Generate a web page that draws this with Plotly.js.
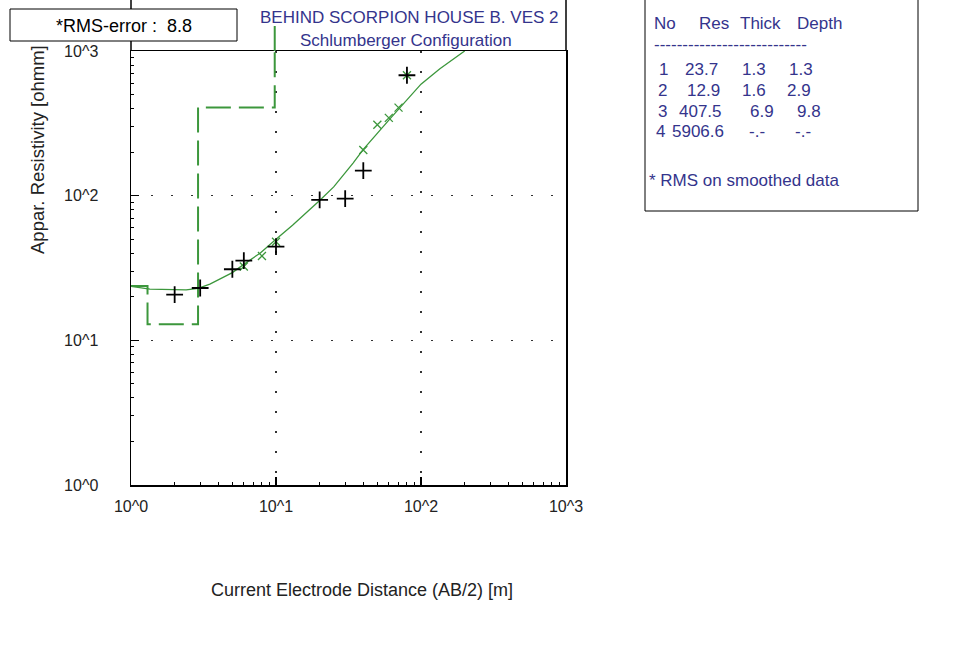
<!DOCTYPE html>
<html><head><meta charset="utf-8">
<script src="https://cdn.plot.ly/plotly-3.0.1.min.js"></script>
<style>html,body{margin:0;padding:0;background:#fff}</style>
</head><body><div id="chart" style="width:966px;height:651px"></div>
<script>
// ---- data ----
const abMeasured  = [2, 3, 5, 6, 10, 20, 30, 40, 80];
const rhoMeasured = [20.7, 23.0, 31.0, 35.6, 44.4, 93.5, 95.5, 149, 680];
const abSmoothed  = [6, 8, 10, 40, 50, 60, 70, 80];
const rhoSmoothed = [32.4, 38.3, 48, 207, 309, 345, 406, 680];
const abCurve  = [1, 1.35, 2.4, 2.9, 3.5, 4.1, 5, 6, 7.8, 10, 13, 20, 25, 34, 40, 60, 100, 135, 200];
const rhoCurve = [23.6, 22.6, 22.3, 22.9, 24.5, 26.5, 29.4, 33.5, 40.2, 50, 62.5, 92.5, 115, 168, 209, 333, 590, 753, 1000];
const layerNo    = ['1', '2', '3', '4'];
const layerRes   = [23.7, 12.9, 407.5, 5906.6];
const layerThick = [1.3, 1.6, 6.9, null];
const layerDepth = [1.3, 2.9, 9.8, null];
const tableHeader = ['No', 'Res', 'Thick', 'Depth'];
const rmsError = 8.8;
const titleLines = ['BEHIND SCORPION HOUSE B. VES 2', 'Schlumberger Configuration'];
const xTitle = 'Current Electrode Distance (AB/2) [m]';
const yTitle = 'Appar. Resistivity [ohmm]';
const tickVals = [1, 10, 100, 1000];
const tickText = ['10^0', '10^1', '10^2', '10^3'];
const footNote = '* RMS on smoothed data';

// ---- model step line built from the layer table ----
const mx = [1], my = [layerRes[0]];
for (let i = 0; i < 3; i++) {
  mx.push(layerDepth[i], layerDepth[i]);
  my.push(layerRes[i], layerRes[i + 1]);
}
mx.push(1000); my.push(layerRes[3]);

// ---- geometry helpers (pixel -> paper) ----
const L = 131, R = 566, T = 51, B = 485;
const px = v => (v - L) / (R - L);
const py = v => (B - v) / (B - T);

const green = '#3c973c';
const blue = '#34348c';
const FONT = 'Liberation Sans, Arial, sans-serif';

const traces = [
  {x: mx, y: my, type: 'scatter', mode: 'lines',
   line: {color: green, width: 2, dash: '25px,8px'}},
  {x: abCurve, y: rhoCurve, type: 'scatter', mode: 'lines',
   line: {color: green, width: 1.3}},
  {x: abSmoothed, y: rhoSmoothed, type: 'scatter', mode: 'markers',
   marker: {symbol: 'x-thin', size: 8, line: {color: green, width: 1.3}}},
  {x: abMeasured, y: rhoMeasured, type: 'scatter', mode: 'markers',
   marker: {symbol: 'cross-thin', size: 12, line: {color: '#000', width: 1.8}}}
];

const axisCommon = {
  type: 'log', range: [0, 3], tickmode: 'array', tickvals: tickVals, ticktext: tickText,
  showline: true, linecolor: '#000', linewidth: 1.5, mirror: true,
  ticks: 'inside', ticklen: 8, tickwidth: 1.5, tickcolor: '#000',
  showgrid: true, gridcolor: '#333', gridwidth: 1.5, griddash: '2px,18px',
  zeroline: false, tickfont: {family: FONT, size: 16, color: '#222'},
  minor: {dtick: 'D1', ticks: 'inside', ticklen: 3, tickcolor: '#000', tickwidth: 1, showgrid: false}
};

const annotations = [];
function addText(text, x, y, opts) {
  annotations.push(Object.assign({
    text: text, xref: 'paper', yref: 'paper', x: px(x), y: py(y),
    showarrow: false, xanchor: 'center', yanchor: 'middle',
    font: {family: FONT, size: 17, color: '#000'}
  }, opts || {}));
}
addText(titleLines[0], 409, 17, {font: {family: FONT, size: 17, color: blue}});
addText(titleLines[1], 406, 40, {font: {family: FONT, size: 17, color: blue}});
addText('*RMS-error :  ' + rmsError.toFixed(1), 124, 26, {font: {family: FONT, size: 18, color: '#000'}});
addText(xTitle, 362, 590, {font: {family: FONT, size: 18, color: '#222'}});
addText(yTitle, 37, 150, {textangle: -90, font: {family: FONT, size: 18.5, color: '#222'}});

// table
const tFont = {family: FONT, size: 17, color: blue};
const headerX = [652, 697, 738, 795];
tableHeader.forEach((h, i) => addText(h, headerX[i], 23, {xanchor: 'left', font: tFont}));
addText('-'.repeat(27), 652, 45, {xanchor: 'left', font: tFont});
const rowY = [69, 90.7, 111.7, 131.7];
const colX = [[657, 683, 740, 787], [656, 685, 740, 785], [656, 677, 748, 795], [654, 670, 747, 793]];
layerNo.forEach((n, i) => {
  const cells = [n, layerRes[i].toFixed(1),
    layerThick[i] === null ? '-.-' : layerThick[i].toFixed(1),
    layerDepth[i] === null ? '-.-' : layerDepth[i].toFixed(1)];
  cells.forEach((c, j) => addText(c, colX[i][j], rowY[i], {xanchor: 'left', font: tFont}));
});
addText(footNote, 647, 180, {xanchor: 'left', font: tFont});

const shapes = [
  {type: 'line', xref: 'paper', yref: 'paper', x0: 0, x1: 0, y0: 1, y1: py(0), line: {color: '#000', width: 1.5}},
  {type: 'line', xref: 'paper', yref: 'paper', x0: 1, x1: 1, y0: 1, y1: py(0), line: {color: '#000', width: 1.5}},
  {type: 'line', xref: 'x', yref: 'paper', x0: layerDepth[2], x1: layerDepth[2], y0: 1, y1: py(18),
   line: {color: green, width: 2, dash: '25px,8px'}},
  {type: 'rect', xref: 'paper', yref: 'paper', x0: px(10), x1: px(237), y0: py(41), y1: py(9),
   fillcolor: '#fff', line: {color: '#000', width: 1}},
  {type: 'rect', xref: 'paper', yref: 'paper', x0: px(645), x1: px(918), y0: py(211), y1: py(-5),
   fillcolor: '#fff', line: {color: '#000', width: 1}}
];

const layout = {
  width: 966, height: 651,
  margin: {l: L, r: 966 - R, t: T, b: 651 - B, pad: 0},
  paper_bgcolor: '#fff', plot_bgcolor: '#fff',
  showlegend: false, hovermode: false,
  xaxis: Object.assign({}, axisCommon, {ticklabelstandoff: 6}),
  yaxis: Object.assign({}, axisCommon, {ticklabelstandoff: 28}),
  shapes: shapes, annotations: annotations
};

Plotly.newPlot('chart', traces, layout, {staticPlot: true, displayModeBar: false});
</script></body></html>
